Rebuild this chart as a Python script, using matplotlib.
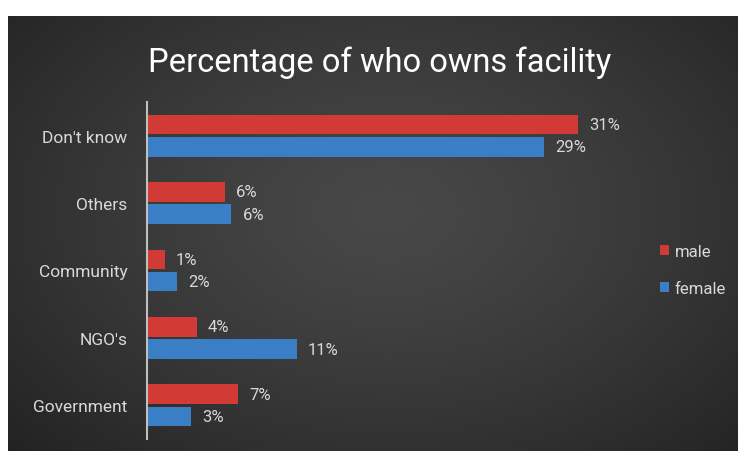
import numpy as np
import matplotlib
matplotlib.use("Agg")
import matplotlib.pyplot as plt

categories = ["Government", "NGO's", "Community", "Others", "Don't know"]
male = [6.6, 3.6, 1.3, 5.6, 31.1]
female = [3.2, 10.8, 2.2, 6.1, 28.7]
series_names = ["male", "female"]
title = "Percentage of who owns facility"

RED = "#d23a35"
BLUE = "#3a7fc6"
TXT = "#d9d9d9"

W, H = 739, 452
fig = plt.figure(figsize=(W / 100, H / 100), dpi=100, facecolor="white")

# dark panel with a soft radial glow
bg = fig.add_axes([8 / W, 0, 730 / W, 435 / H])
bg.set_axis_off()
ny, nx = 200, 340
yy, xx = np.mgrid[0:1:ny * 1j, 0:1:nx * 1j]
r = np.sqrt(((xx - 0.52) / 0.75) ** 2 + ((yy - 0.55) / 0.85) ** 2)
t = np.clip(r, 0, 1) ** 1.3
inner, outer = 0x48 / 255, 0x20 / 255
val = inner + (outer - inner) * t
img = np.dstack([val, val, val])
bg.imshow(img, aspect="auto", extent=[0, 1, 0, 1], origin="lower", interpolation="bicubic")
bg.set_xlim(0, 1)
bg.set_ylim(0, 1)

fig.text(380 / W, 1 - 63 / H, title, ha="center", va="center",
         color="white", fontsize=23.5, family="Roboto")

ax = fig.add_axes([147 / W, 12 / H, 457 / W, 337 / H])
ax.patch.set_alpha(0)
y = np.arange(len(categories))
h = 0.29
off = 0.165
bm = ax.barh(y + off, male, height=h, color=RED, label=series_names[0])
bf = ax.barh(y - off, female, height=h, color=BLUE, label=series_names[1])

for bars, vals in ((bm, male), (bf, female)):
    for b, v in zip(bars, vals):
        ax.text(v + 0.8, b.get_y() + b.get_height() / 2, f"{v:.0f}%",
                va="center", ha="left", color=TXT, fontsize=12, family="Roboto")

ax.set_xlim(0, 33)
ax.set_ylim(-0.5, len(categories) - 0.5)
ax.set_yticks(y)
ax.set_yticklabels(categories, color=TXT, fontsize=12.5, family="Roboto")
ax.tick_params(axis="y", length=0, pad=14)
ax.set_xticks([])
for s in ("top", "right", "bottom"):
    ax.spines[s].set_visible(False)
ax.spines["left"].set_color("#bfbfbf")
ax.spines["left"].set_linewidth(1.5)

leg = ax.legend(loc="center left", bbox_to_anchor=(645 / W, 1 - 271 / H), bbox_transform=fig.transFigure,
                frameon=False, handlelength=0.55, handleheight=0.55, handletextpad=0.35,
                labelspacing=1.3, prop={"family": "Roboto", "size": 12})
for t_ in leg.get_texts():
    t_.set_color(TXT)

fig.savefig("out.png", dpi=100, facecolor="white")
